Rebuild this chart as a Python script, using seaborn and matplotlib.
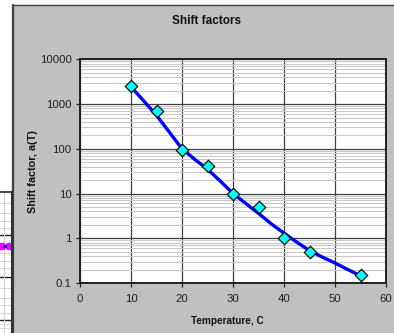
import matplotlib
matplotlib.use("Agg")
import matplotlib.pyplot as plt
import seaborn as sns
import pandas as pd
from matplotlib.patches import Rectangle
from matplotlib.lines import Line2D
from matplotlib.ticker import LogLocator, FixedLocator, NullFormatter

sns.set_theme(style="white")
plt.rcParams['font.family'] = ['Liberation Sans', 'DejaVu Sans']

# Measured shift factors
temps = [10, 15, 20, 25, 30, 35, 40, 45, 55]
shift = [2500, 700, 95, 42, 10, 5, 1.0, 0.5, 0.15]

# Fitted curve
fit_t = [10, 12.5, 15, 17.5, 20, 22.5, 25, 27.5, 30, 32.5, 35, 37.5, 40, 42.5, 45, 47.5, 50, 52.5, 55]
fit_a = [2440, 1170, 560, 237, 100, 58, 35, 19, 10, 6.0, 3.6, 2.1, 1.3, 0.82, 0.53, 0.38, 0.28, 0.2, 0.145]

title = "Shift factors"
xlabel = "Temperature, C"
ylabel = "Shift factor, a(T)"
xticks = [0, 10, 20, 30, 40, 50, 60]
yticks = [0.1, 1, 10, 100, 1000, 10000]
ytick_labels = ["0.1", "1", "10", "100", "1000", "10000"]

W, H = 394, 333
fig = plt.figure(figsize=(W / 100, H / 100), dpi=100)
fig.patch.set_facecolor("white")

# gray chart area
fig.patches.append(Rectangle((12.5 / W, 0), 1, 1 - 5 / H, transform=fig.transFigure,
                             facecolor="#C0C0C0", edgecolor="none", zorder=-5))
fig.lines.append(Line2D([12.5 / W, 12.5 / W], [0, 1 - 5 / H], transform=fig.transFigure,
                        color="#404040", lw=1.6, zorder=-4))
fig.lines.append(Line2D([12.5 / W, 1], [1 - 5 / H, 1 - 5 / H], transform=fig.transFigure,
                        color="#404040", lw=1.0, zorder=-4))

# fragment of neighbouring chart on the left
fax = fig.add_axes([0, 0, 11.5 / W, (H - 192) / H])
fax.set_facecolor("white")
fax.set_xlim(0, 1)
fax.set_ylim(0, 141)
for yy in [13, 56, 98]:
    fax.axhline(yy, color="#202020", lw=1.0)
for yy in [5, 9, 20, 28, 35, 45, 65, 72, 80, 88, 105, 112, 120, 130]:
    fax.axhline(yy, color="#d8d8d8", lw=0.8)
fax.axvline(0.35, color="#d0d0d0", lw=0.8)
fax.plot([0.05], [87], marker="s", color="#FF00FF", ms=4, clip_on=True)
fax.plot([0.55], [87], marker="<", color="#0000CC", ms=4, clip_on=True)
fax.plot([0.85], [87], marker="s", color="#FF00FF", ms=5, clip_on=True)
fax.set_xticks([])
fax.set_yticks([])
for s in ["left", "bottom"]:
    fax.spines[s].set_visible(False)
fax.spines["top"].set_color("#303030")
fax.spines["right"].set_color("#303030")
fax.spines["right"].set_linewidth(1.5)

# main plot
ax = fig.add_axes([80 / W, 1 - 283 / H, (386 - 80) / W, (283 - 59.3) / H])
ax.set_facecolor("white")
ax.set_yscale("log")
ax.set_xlim(0, 60)
ax.set_ylim(0.1, 10000)

ax.yaxis.set_major_locator(FixedLocator(yticks))
ax.set_yticklabels(ytick_labels)
ax.yaxis.set_minor_locator(LogLocator(base=10, subs=range(2, 10), numticks=20))
ax.yaxis.set_minor_formatter(NullFormatter())
ax.set_xticks(xticks)
ax.set_xticklabels([str(t) for t in xticks])

ax.grid(True, which="minor", axis="y", color="#c8c8c8", lw=0.8)
ax.grid(True, which="major", axis="both", color="#404040", lw=0.9)
ax.set_axisbelow(True)

df_fit = pd.DataFrame({"T": fit_t, "a": fit_a})
df_pts = pd.DataFrame({"T": temps, "a": shift})
sns.lineplot(data=df_fit, x="T", y="a", ax=ax, color="#0000FF", lw=2.4, zorder=3)
sns.scatterplot(data=df_pts, x="T", y="a", ax=ax, marker="D", s=40, color="#00FFFF",
                edgecolor="#101010", linewidth=0.9, zorder=4, clip_on=False)

ax.set_xlabel("")
ax.set_ylabel("")
for s in ax.spines.values():
    s.set_color("#202020")
    s.set_linewidth(1.4)
ax.tick_params(axis="both", which="major", direction="out", length=3, width=0.9,
               color="#202020", labelsize=8.2, labelcolor="#202020",
               bottom=True, left=True)
ax.tick_params(axis="x", which="major", pad=5)
ax.tick_params(axis="y", which="major", pad=3)
ax.tick_params(axis="y", which="minor", left=False)

fig.text(207 / W, 1 - 20.7 / H, title, ha="center", va="center",
         fontsize=8.5, fontweight="bold", color="#101010")
fig.text(227 / W, 1 - 321.5 / H, xlabel, ha="center", va="center",
         fontsize=7.2, fontweight="bold", color="#101010")
fig.text(32.5 / W, 1 - 172 / H, ylabel, ha="center", va="center", rotation=90,
         fontsize=7.8, fontweight="bold", color="#101010")

fig.savefig("out.png", dpi=100)
